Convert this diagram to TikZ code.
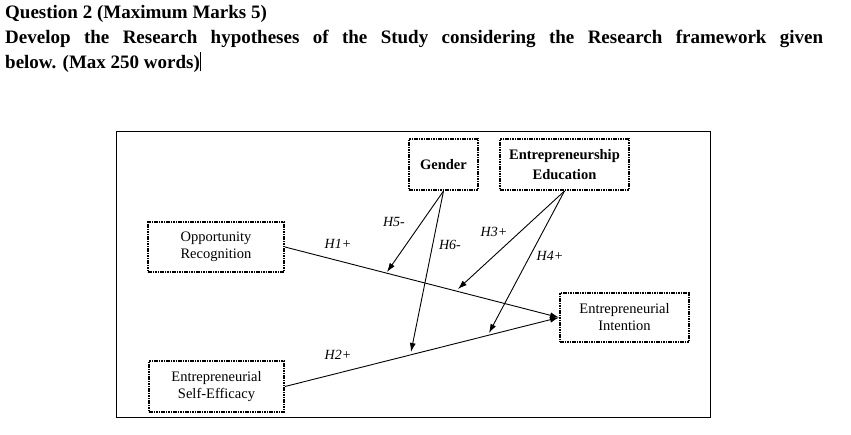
\documentclass[tikz,border=0pt]{standalone}
\usepackage{fontspec}
\setmainfont{Liberation Serif}
\usetikzlibrary{arrows.meta}
\begin{document}
\begin{tikzpicture}[x=1pt,y=-1pt,
  box/.style={draw, line width=2pt, dash pattern=on 1.6pt off 0.8pt, inner sep=0pt, align=center, font=\fontsize{14.5}{17}\selectfont},
  link/.style={line width=0.9pt, -{Latex[length=9pt,width=6pt]}},
  hyp/.style={font=\fontsize{14}{16}\selectfont\itshape}]
\useasboundingbox (0,0) rectangle (851,434);
\node[anchor=north west, inner sep=0pt, text width=818pt, align=justify, font=\fontsize{19}{25}\selectfont\bfseries] (head) at (5,5)
 {Question 2 (Maximum Marks 5)\\ Develop the Research hypotheses of the Study considering the Research framework given\linebreak below. (Max 250 words)\rule[-3pt]{1pt}{19pt}};
\draw[line width=0.8pt] (116,131) rectangle (710,417);
\node[box, minimum width=136pt, minimum height=50pt] (or) at (216,247) {Opportunity\\Recognition};
\node[box, minimum width=135pt, minimum height=51pt] (se) at (216.5,386.5) {Entrepreneurial\\Self-Efficacy};
\node[box, minimum width=69pt, minimum height=51pt, font=\fontsize{14.5}{17}\selectfont\bfseries] (g) at (443.5,164.5) {Gender};
\node[box, minimum width=129pt, minimum height=51pt, font=\fontsize{14.5}{20}\selectfont\bfseries] (ee) at (564.5,164.5) {Entrepreneurship\\Education};
\node[box, minimum width=129pt, minimum height=49pt] (ei) at (624.5,317.5) {Entrepreneurial\\Intention};
\draw[link] (or.east) -- (ei.west);
\draw[link] (se.east) -- (ei.west);
\coordinate (p5) at (387,272);
\coordinate (p6) at (411,352);
\coordinate (p3) at (458,289);
\coordinate (p4) at (489,333);
\draw[link] (g.south) -- (p5);
\draw[link] (g.south) -- (p6);
\draw[link] (ee.south) -- (p3);
\draw[link] (ee.south) -- (p4);
\node[hyp] (h1) at (338,244) {H1+};
\node[hyp] (h2) at (338,355) {H2+};
\node[hyp] (h5) at (394,222) {H5-};
\node[hyp] (h6) at (450,245) {H6-};
\node[hyp] (h3) at (494,232) {H3+};
\node[hyp] (h4) at (550,256) {H4+};
\end{tikzpicture}
\end{document}
